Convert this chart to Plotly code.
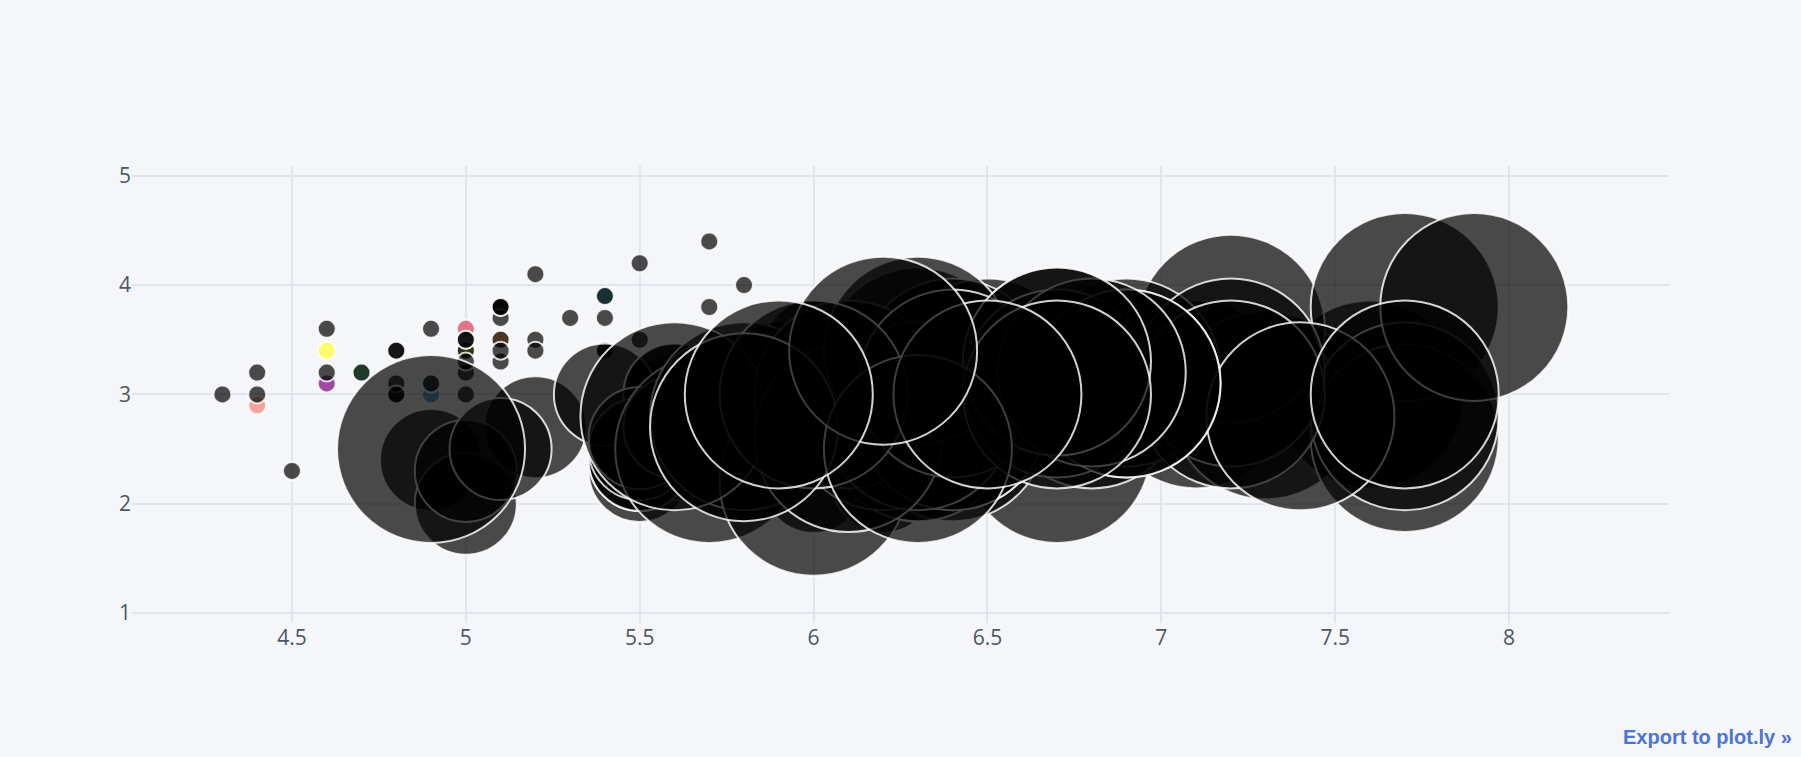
import plotly.graph_objects as go

setosa_x = [5.1,4.9,4.7,4.6,5.0,5.4,4.6,5.0,4.4,4.9,5.4,4.8,4.8,4.3,5.8,5.7,5.4,5.1,5.7,5.1,
            5.4,5.1,4.6,5.1,4.8,5.0,5.0,5.2,5.2,4.7,4.8,5.4,5.2,5.5,4.9,5.0,5.5,4.9,4.4,5.1,
            5.0,4.5,4.4,5.0,5.1,4.8,5.1,4.6,5.3,5.0]
setosa_y = [3.5,3.0,3.2,3.1,3.6,3.9,3.4,3.4,2.9,3.1,3.7,3.4,3.0,3.0,4.0,4.4,3.9,3.5,3.8,3.8,
            3.4,3.7,3.6,3.3,3.4,3.0,3.4,3.5,3.4,3.2,3.1,3.4,4.1,4.2,3.1,3.2,3.5,3.6,3.0,3.4,
            3.5,2.3,3.2,3.5,3.8,3.0,3.8,3.2,3.7,3.3]
versicolor_x = [7.0,6.4,6.9,5.5,6.5,5.7,6.3,4.9,6.6,5.2,5.0,5.9,6.0,6.1,5.6,6.7,5.6,5.8,6.2,5.6,
                5.9,6.1,6.3,6.1,6.4,6.6,6.8,6.7,6.0,5.7,5.5,5.5,5.8,6.0,5.4,6.0,6.7,6.3,5.6,5.5,
                5.5,6.1,5.8,5.0,5.6,5.7,5.7,6.2,5.1,5.7]
versicolor_y = [3.2,3.2,3.1,2.3,2.8,2.8,3.3,2.4,2.9,2.7,2.0,3.0,2.2,2.9,2.9,3.1,3.0,2.7,2.2,2.5,
                3.2,2.8,2.5,2.8,2.9,3.0,2.8,3.0,2.9,2.6,2.4,2.4,2.7,2.7,3.0,3.4,3.1,2.3,3.0,2.5,
                2.6,3.0,2.6,2.3,2.7,3.0,2.9,2.9,2.5,2.8]
virginica_x = [6.3,5.8,7.1,6.3,6.5,7.6,4.9,7.3,6.7,7.2,6.5,6.4,6.8,5.7,5.8,6.4,6.5,7.7,7.7,6.0,
               6.9,5.6,7.7,6.3,6.7,7.2,6.2,6.1,6.4,7.2,7.4,7.9,6.4,6.3,6.1,7.7,6.3,6.4,6.0,6.9,
               6.7,6.9,5.8,6.8,6.7,6.7,6.3,6.5,6.2,5.9]
virginica_y = [3.3,2.7,3.0,2.9,3.0,3.0,2.5,2.9,2.5,3.6,3.2,2.7,3.0,2.5,2.8,3.2,3.0,3.8,2.6,2.2,
               3.2,2.8,2.8,2.7,3.3,3.2,2.8,3.0,2.8,3.0,2.8,3.8,2.8,2.8,2.6,3.0,3.4,3.1,3.0,3.1,
               3.1,3.1,2.7,3.2,3.3,3.0,2.5,3.0,3.4,3.0]

first_colors = ["rgba(255,153,51,0.7)", "rgba(55,128,191,0.7)", "rgba(50,171,96,0.7)",
                "rgba(128,0,128,0.7)", "rgba(219,64,82,0.7)", "rgba(0,128,128,0.7)",
                "rgba(255,255,51,0.7)", "rgba(128,128,0,0.7)", "rgba(251,128,114,0.7)",
                "rgba(128,177,211,0.7)"]
other_color = "rgba(0,0,0,0.7)"
species_size = {"setosa": 18, "versicolor": 102, "virginica": 188}
y_ticks = [1, 2, 3, 4, 5]
x_ticks = [4.5, 5, 5.5, 6, 6.5, 7, 7.5, 8]
link_text = "<b>Export to plot.ly »</b>"

x = setosa_x + versicolor_x + virginica_x
y = setosa_y + versicolor_y + virginica_y
sizes = ([species_size["setosa"]] * len(setosa_x)
         + [species_size["versicolor"]] * len(versicolor_x)
         + [species_size["virginica"]] * len(virginica_x))
colors = first_colors + [other_color] * (len(x) - len(first_colors))

fig = go.Figure(go.Scatter(
    x=x, y=y, mode="markers",
    marker=dict(size=sizes, sizemode="diameter", color=colors, opacity=1,
                line=dict(color="rgba(255,255,255,0.82)", width=2)),
))

TICK = dict(family="Open Sans, sans-serif", size=21, color="#4D5663")
fig.update_layout(
    width=1801, height=757,
    paper_bgcolor="#F5F6F9", plot_bgcolor="#F5F6F9",
    margin=dict(l=132, r=132, t=166, b=134),
    showlegend=False,
    xaxis=dict(range=[4.04, 8.46], tickvals=x_ticks, ticktext=[str(v) for v in x_ticks],
               gridcolor="#E1E5ED", gridwidth=1.5, zeroline=False, tickfont=TICK,
               showline=False, ticks=""),
    yaxis=dict(range=[0.908, 5.09], tickvals=y_ticks, ticktext=[str(v) for v in y_ticks],
               gridcolor="#E1E5ED", gridwidth=2, zeroline=False, tickfont=TICK,
               showline=False, ticks=""),
    annotations=[dict(text=link_text, xref="paper", yref="paper", x=1.0815, y=-0.2495,
                      xanchor="right", yanchor="middle", showarrow=False,
                      font=dict(family="Liberation Sans, Arial, sans-serif", size=20, color="#4A74D8"))],
)
fig.write_html("out.html", config={"displayModeBar": False},
               post_script="document.body.style.margin='0';")
